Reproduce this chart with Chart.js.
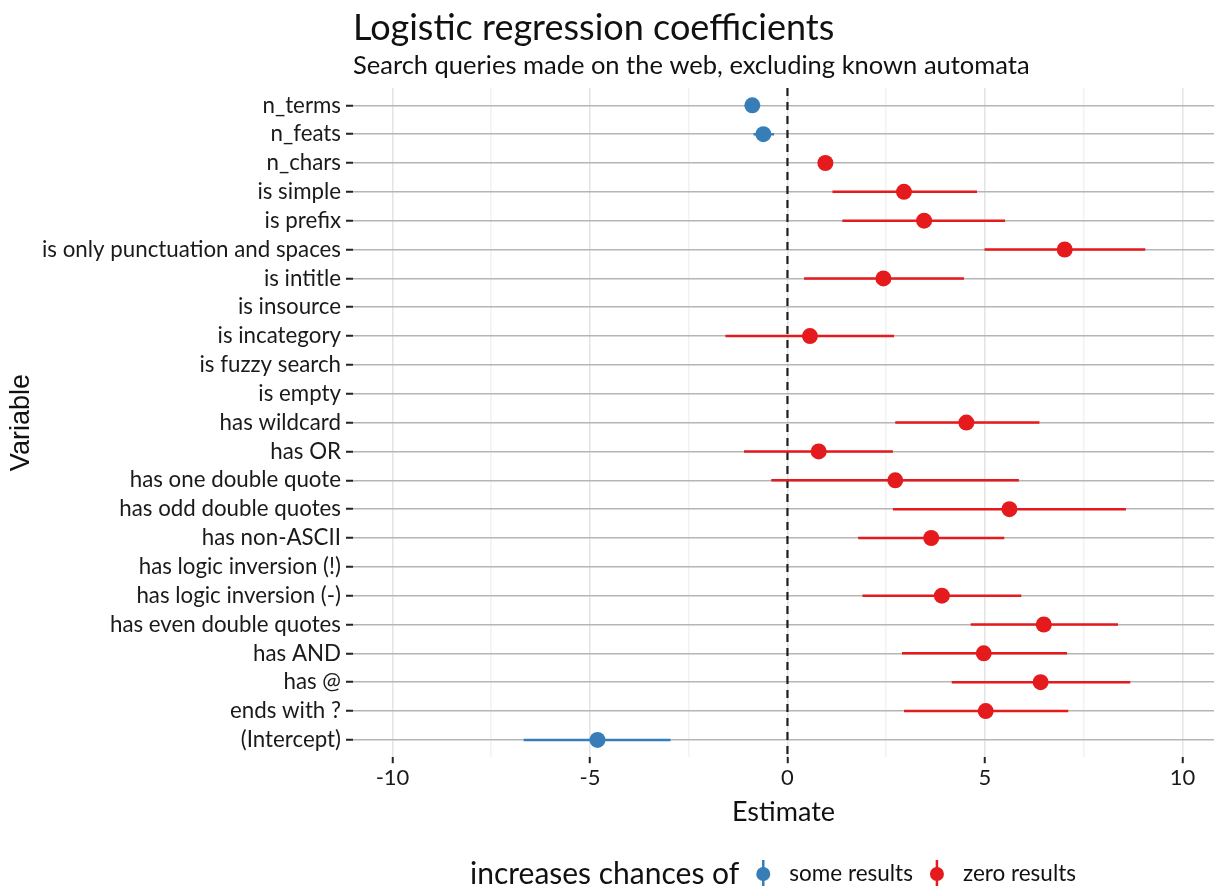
<!DOCTYPE html>
<html>
<head>
<meta charset="utf-8">
<script src="https://cdn.jsdelivr.net/npm/chart.js@4.4.1/dist/chart.umd.min.js"></script>
<style>
  html, body { margin: 0; padding: 0; background: #fff; overflow: hidden; }
  canvas { display: block; }
</style>
</head>
<body>
<canvas id="chart" width="1214" height="886"></canvas>
<script>
const variables = [
  'n_terms', 'n_feats', 'n_chars', 'is simple', 'is prefix',
  'is only punctuation and spaces', 'is intitle', 'is insource', 'is incategory',
  'is fuzzy search', 'is empty', 'has wildcard', 'has OR', 'has one double quote',
  'has odd double quotes', 'has non-ASCII', 'has logic inversion (!)',
  'has logic inversion (-)', 'has even double quotes', 'has AND', 'has @',
  'ends with ?', '(Intercept)'
]
const estimates = [-0.89, -0.61, 0.96, 2.95, 3.46, 7.02, 2.43, null, 0.57, null, null,
  4.53, 0.79, 2.73, 5.62, 3.64, null, 3.91, 6.49, 4.97, 6.41, 5.02, -4.81]
const lower = [-0.95, -0.86, 0.88, 1.14, 1.39, 4.99, 0.42, null, -1.57, null, null,
  2.73, -1.10, -0.41, 2.67, 1.79, null, 1.90, 4.64, 2.90, 4.16, 2.95, -6.68]
const upper = [-0.83, -0.34, 1.04, 4.80, 5.51, 9.06, 4.47, null, 2.70, null, null,
  6.38, 2.67, 5.86, 8.57, 5.49, null, 5.92, 8.37, 7.08, 8.68, 7.11, -2.96]

const xTicks = [-10, -7.5, -5, -2.5, 0, 2.5, 5, 7.5, 10]
const groups = ['some results', 'zero results']
const groupColors = ['#377EB8', '#E41A1C']
const titleText = 'Logistic regression coefficients'
const subtitleText = 'Search queries made on the web, excluding known automata'
const legendTitle = 'increases chances of'

const FONT = 'Lato'
const groupOf = i => (estimates[i] < 0 ? 0 : 1)

// points, one dataset per outcome
const pointSets = groups.map((name, g) => ({
  label: name,
  data: estimates.map((v, i) => ({ x: v, y: i })).filter((p, i) => p.x !== null && groupOf(i) === g),
  backgroundColor: groupColors[g],
  borderWidth: 0,
  pointRadius: 8,
  pointHoverRadius: 8
}))

// error bars: segments split by null points
const barSets = groups.map((name, g) => {
  const data = []
  estimates.forEach((v, i) => {
    if (v === null || groupOf(i) !== g) return
    data.push({ x: lower[i], y: i }, { x: upper[i], y: i }, { x: null, y: null })
  })
  return {
    label: name + ' interval',
    data: data,
    showLine: true,
    spanGaps: false,
    borderColor: groupColors[g],
    borderWidth: 2.5,
    pointRadius: 0
  }
})

const zeroLine = {
  label: 'zero',
  data: [{ x: 0, y: -0.6 }, { x: 0, y: variables.length - 0.4 }],
  showLine: true,
  borderColor: '#1e1e1e',
  borderWidth: 2.2,
  borderDash: [8, 6],
  pointRadius: 0
}

const annotations = {
  id: 'annotations',
  afterDraw(chart) {
    const ctx = chart.ctx
    const area = chart.chartArea
    ctx.save()
    ctx.fillStyle = '#111'
    ctx.textAlign = 'left'
    ctx.textBaseline = 'alphabetic'
    ctx.font = '36px ' + FONT
    ctx.fillText(titleText, area.left, 40)
    ctx.font = '25.5px ' + FONT
    ctx.fillText(subtitleText, area.left, 74)

    // legend at bottom
    const ly = 874
    ctx.textBaseline = 'middle'
    ctx.font = '30px ' + FONT
    const tw = ctx.measureText(legendTitle).width
    ctx.font = '22.5px ' + FONT
    const lw = groups.map(s => ctx.measureText(s).width)
    const total = tw + 24 + (26 + lw[0]) + 24 + (26 + lw[1])
    let x = 773 - total / 2
    ctx.font = '30px ' + FONT
    ctx.fillText(legendTitle, x, ly)
    x += tw + 24
    ctx.font = '22.5px ' + FONT
    groups.forEach((name, g) => {
      ctx.strokeStyle = groupColors[g]
      ctx.lineWidth = 2.5
      ctx.beginPath()
      ctx.moveTo(x, ly - 14)
      ctx.lineTo(x, ly + 14)
      ctx.stroke()
      ctx.fillStyle = groupColors[g]
      ctx.beginPath()
      ctx.arc(x, ly, 7, 0, Math.PI * 2)
      ctx.fill()
      ctx.fillStyle = '#111'
      ctx.fillText(name, x + 26, ly)
      x += 26 + lw[g] + 24
    })
    ctx.restore()
  }
}

const ctx = document.getElementById('chart').getContext('2d')
const myChart = new Chart(ctx, {
  type: 'scatter',
  data: { datasets: [...pointSets, ...barSets, zeroLine] },
  plugins: [annotations],
  options: {
    responsive: false,
    animation: false,
    devicePixelRatio: 1,
    layout: { autoPadding: false, padding: { top: 88, right: 0, bottom: 58, left: 2 } },
    plugins: {
      legend: { display: false },
      tooltip: { enabled: false }
    },
    scales: {
      x: {
        type: 'linear',
        min: -11,
        max: 10.8,
        afterBuildTicks: s => { s.ticks = xTicks.map(v => ({ value: v })) },
        afterFit: s => { s.paddingLeft = 0; s.paddingRight = 0 },
        ticks: {
          callback: v => (v % 5 === 0 ? String(v) : ''),
          font: { family: FONT, size: 22 },
          color: '#1a1a1a',
          padding: 2,
          maxRotation: 0,
          autoSkip: false
        },
        grid: {
          color: c => (c.tick && c.tick.value % 5 === 0 ? '#e4e4e4' : '#f2f2f2'),
          lineWidth: 1.5,
          tickColor: c => (c.tick && c.tick.value % 5 === 0 ? '#222' : 'rgba(0,0,0,0)'),
          tickLength: 6,
          tickWidth: 2
        },
        border: { display: false },
        title: {
          display: true,
          text: 'Estimate',
          font: { family: FONT, size: 27 },
          color: '#111',
          padding: { top: 2, bottom: 0 }
        }
      },
      y: {
        type: 'linear',
        reverse: true,
        min: -0.6,
        max: variables.length - 0.4,
        afterBuildTicks: s => { s.ticks = variables.map((v, i) => ({ value: i })) },
        afterFit: s => { s.width = 351 },
        ticks: {
          callback: v => variables[v],
          font: { family: FONT, size: 22.3 },
          color: '#1a1a1a',
          padding: 5,
          autoSkip: false
        },
        grid: {
          color: '#b5b5b5',
          lineWidth: 1.5,
          tickColor: '#222',
          tickLength: 7,
          tickWidth: 2
        },
        border: { display: false },
        title: {
          display: true,
          text: 'Variable',
          font: { family: 'Liberation Sans', size: 27 },
          color: '#111',
          padding: { top: 3, bottom: 0 }
        }
      }
    }
  }
})
</script>
</body>
</html>
